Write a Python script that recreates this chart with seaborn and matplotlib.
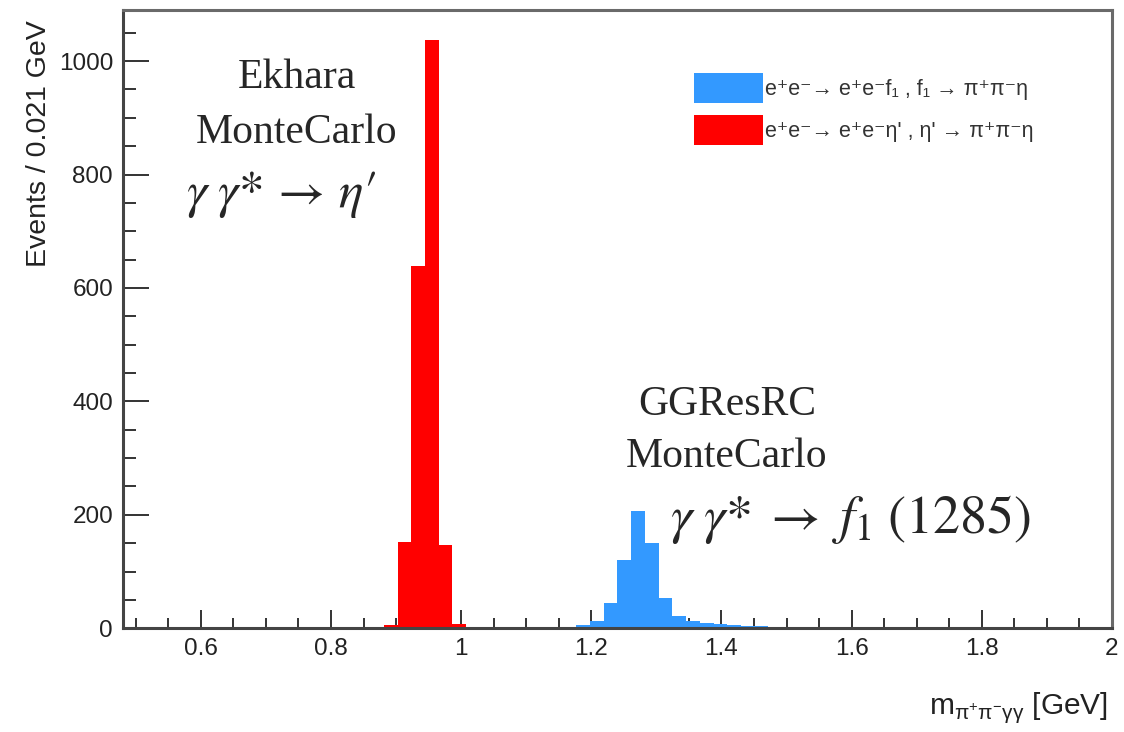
import numpy as np
import pandas as pd
import seaborn as sns
import matplotlib.pyplot as plt
from matplotlib.patches import Patch
from matplotlib.ticker import MultipleLocator, FuncFormatter

# histogram binning (72 bins of ~0.021 GeV)
bin_lo, bin_hi, n_bins = 0.48, 2.0, 72

# eta' -> pi+ pi- eta (Ekhara), counts starting at bin 19
red_first_bin = 19
red_counts = [6, 152, 638, 1037, 146, 7, 2]

# f1 -> pi+ pi- eta (GGResRC), counts starting at bin 31
blue_first_bin = 31
blue_counts = [1, 2, 5, 13, 44, 120, 207, 151, 53, 22, 13, 9, 7, 6, 4, 4, 3, 3, 2, 2, 1, 1, 1, 1]

blue_label = "e⁺e⁻→ e⁺e⁻f₁ , f₁ → π⁺π⁻η"
red_label = "e⁺e⁻→ e⁺e⁻η' , η' → π⁺π⁻η"

edges = np.linspace(bin_lo, bin_hi, n_bins + 1)
centers = 0.5 * (edges[:-1] + edges[1:])

red_df = pd.DataFrame({
    "mass": centers[red_first_bin:red_first_bin + len(red_counts)],
    "events": red_counts,
})
blue_df = pd.DataFrame({
    "mass": centers[blue_first_bin:blue_first_bin + len(blue_counts)],
    "events": blue_counts,
})

sns.set_style("ticks")
plt.rcParams['font.family'] = ['Liberation Sans', 'DejaVu Sans']

RED = "#ff0000"
BLUE = "#3399ff"

fig = plt.figure(figsize=(11.24, 7.32), dpi=100)
ax = fig.add_axes([0.1092, 0.1417, 0.9893 - 0.1092, 0.9863 - 0.1417])

sns.histplot(data=blue_df, x="mass", weights="events", bins=n_bins, binrange=(bin_lo, bin_hi),
             color=BLUE, alpha=1, linewidth=0, ax=ax)
sns.histplot(data=red_df, x="mass", weights="events", bins=n_bins, binrange=(bin_lo, bin_hi),
             color=RED, alpha=1, linewidth=0, ax=ax)

ax.set_xlim(bin_lo, bin_hi)
ax.set_ylim(0, 1090)

ax.xaxis.set_major_locator(MultipleLocator(0.2))
ax.xaxis.set_minor_locator(MultipleLocator(0.05))
ax.yaxis.set_major_locator(MultipleLocator(200))
ax.yaxis.set_minor_locator(MultipleLocator(50))
ax.xaxis.set_major_formatter(FuncFormatter(lambda v, p: "%g" % round(v, 2)))

ax.tick_params(axis="both", which="both", direction="in", colors="#333333",
               labelcolor="#222222", labelsize=17.5, width=1.4,
               bottom=True, left=True, top=False, right=False)
ax.tick_params(axis="x", which="major", length=13, pad=7)
ax.tick_params(axis="x", which="minor", length=7)
ax.tick_params(axis="y", which="major", length=19, pad=7)
ax.tick_params(axis="y", which="minor", length=9.5)

for side in ["left", "bottom"]:
    ax.spines[side].set_color("#444444")
    ax.spines[side].set_linewidth(2.2)
for side in ["top", "right"]:
    ax.spines[side].set_color("#6a6a6a")
    ax.spines[side].set_linewidth(2.2)

ax.set_ylabel("Events / 0.021 GeV", fontsize=20.5, color="#222222", loc="top")
ax.yaxis.set_label_coords(-0.072, 0.984)
ax.set_xlabel(r"m$_{\mathregular{π^{+}π^{-}γγ}}$ [GeV]", fontsize=21.5,
              color="#222222", loc="right")
ax.xaxis.set_label_coords(0.996, -0.10)

handles = [Patch(facecolor=BLUE, edgecolor="none", label=blue_label),
           Patch(facecolor=RED, edgecolor="none", label=red_label)]
fig.legend(handles=handles, loc="upper left", bbox_to_anchor=(694 / 1124, 1 - 73 / 732),
           frameon=False, fontsize=15.5, handlelength=3.2, handleheight=1.75,
           handletextpad=0.1, labelspacing=0.56, borderpad=0, borderaxespad=0,
           labelcolor="#333333")


def fx(px):
    return px / 1124


def fy(py):
    return 1 - py / 732


serif = ['Liberation Serif', 'DejaVu Serif']
fig.text(fx(297), fy(78), "Ekhara", fontsize=30, family=serif, ha="center", va="center")
fig.text(fx(297), fy(133), "MonteCarlo", fontsize=30, family=serif, ha="center", va="center")
fig.text(fx(186), fy(195), r"$\gamma\;\gamma{*}\,\rightarrow\,\eta\prime$", fontsize=37,
         math_fontfamily="stix", ha="left", va="center")
fig.text(fx(727), fy(405), "GGResRC", fontsize=30, family=serif, ha="center", va="center")
fig.text(fx(727), fy(457), "MonteCarlo", fontsize=30, family=serif, ha="center", va="center")
fig.text(fx(670), fy(520), r"$\gamma\;\gamma{*}\;\rightarrow\; f_{1}\;(1285)$", fontsize=39,
         math_fontfamily="stix", ha="left", va="center")

fig.savefig("out.png", dpi=100)
